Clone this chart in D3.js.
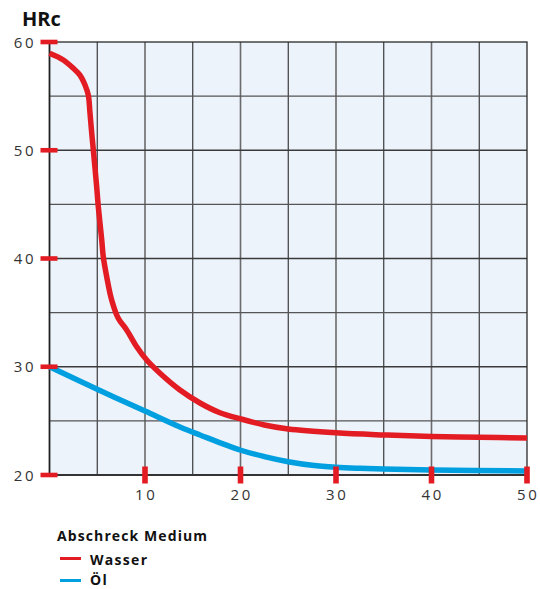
<!DOCTYPE html>
<html><head><meta charset="utf-8">
<script src="https://cdn.jsdelivr.net/npm/d3@7"></script>
<style>
html,body{margin:0;padding:0;background:#fff;}
svg{display:block;font-family:"Open Sans","Noto Sans",sans-serif;}
</style></head>
<body>
<script>
// Data
const xTicks = [10, 20, 30, 40, 50];
const yTicks = [20, 30, 40, 50, 60];
const wasserX = [0, 1.45, 2.49, 3.19, 3.72, 4.06, 4.24, 4.42, 4.59, 4.94, 5.11, 5.47, 5.63, 5.99, 6.51, 7.2, 8.08, 9.13, 10.18, 11.57, 13.66, 15.76, 17.85, 19.95, 22.5, 25, 30, 35, 40, 45, 50];
const wasserY = [58.96, 58.34, 57.57, 56.95, 56.03, 55.1, 53.44, 51.59, 50.02, 46.63, 44.79, 41.71, 40.17, 38.32, 36.17, 34.48, 33.4, 31.85, 30.62, 29.4, 27.85, 26.65, 25.75, 25.2, 24.62, 24.25, 23.9, 23.7, 23.55, 23.48, 23.42];
const oelX = [0, 4.94, 10.0, 13.66, 15.76, 19.95, 22.5, 25, 27.5, 30, 32.5, 35, 40, 50];
const oelY = [30.0, 27.94, 25.91, 24.44, 23.7, 22.31, 21.7, 21.23, 20.9, 20.72, 20.62, 20.55, 20.46, 20.37];
const seriesNames = ["Wasser", "Öl"];
const seriesColors = ["#E31B23", "#009FDF"];
const legendTitle = "Abschreck Medium";
const yTitle = "HRc";

const W = 540, H = 589;
const svg = d3.select("body").append("svg").attr("width", W).attr("height", H);

const x = d3.scaleLinear().domain([0, 50]).range([49.5, 527]);
const y = d3.scaleLinear().domain([20, 60]).range([475, 42]);

// plot background
svg.append("rect").attr("x", x(0)).attr("y", y(60))
  .attr("width", x(50) - x(0)).attr("height", y(20) - y(60))
  .attr("fill", "#ECF3FB");

// grid
const gridX = d3.range(5, 50, 5);
const gridY = d3.range(25, 60, 5);
svg.append("g").selectAll("line").data(gridX).join("line")
  .attr("x1", d => x(d)).attr("x2", d => x(d)).attr("y1", y(60)).attr("y2", y(20))
  .attr("stroke", d => d % 10 === 0 ? "#6a6a6a" : "#2a2a2a").attr("stroke-width", d => d % 10 === 0 ? 1.6 : 1.1);
svg.append("g").selectAll("line").data(gridY).join("line")
  .attr("y1", d => y(d)).attr("y2", d => y(d)).attr("x1", x(0)).attr("x2", x(50))
  .attr("stroke", d => d % 10 === 0 ? "#3a3a3a" : "#555").attr("stroke-width", 1.3);

// frame
svg.append("rect").attr("x", x(0)).attr("y", y(60))
  .attr("width", x(50) - x(0)).attr("height", y(20) - y(60))
  .attr("fill", "none").attr("stroke", "#2a2a2a").attr("stroke-width", 1.3);
svg.append("line").attr("x1", x(0)).attr("x2", x(50)).attr("y1", y(20)).attr("y2", y(20))
  .attr("stroke", "#333").attr("stroke-width", 2);
svg.append("line").attr("x1", x(0)).attr("x2", x(0)).attr("y1", y(60)).attr("y2", y(20))
  .attr("stroke", "#222").attr("stroke-width", 1.6);

// curves
const line = d3.line().curve(d3.curveCatmullRom.alpha(0.5)).x(d => x(d[0])).y(d => y(d[1]));
const wasser = wasserX.map((v, i) => [v, wasserY[i]]);
const oel = oelX.map((v, i) => [v, oelY[i]]);
svg.append("path").datum(oel).attr("d", line).attr("fill", "none")
  .attr("stroke", seriesColors[1]).attr("stroke-width", 5.5).attr("stroke-linejoin", "round");
svg.append("path").datum(wasser).attr("d", line).attr("fill", "none")
  .attr("stroke", seriesColors[0]).attr("stroke-width", 5.5).attr("stroke-linejoin", "round");

// red tick marks
svg.append("g").selectAll("rect").data(yTicks).join("rect")
  .attr("x", x(0) - 9).attr("y", d => y(d) - 2.3).attr("width", 17).attr("height", 4.6)
  .attr("fill", "#E31B23");
svg.append("g").selectAll("rect").data(xTicks).join("rect")
  .attr("x", d => x(d) - 2.8).attr("y", y(20) - 8.5).attr("width", 5.6).attr("height", 17)
  .attr("fill", "#E31B23");

// axis labels
svg.append("g").selectAll("text").data(yTicks).join("text")
  .attr("x", 36).attr("y", d => y(d) + 5.5).attr("text-anchor", "end")
  .attr("font-size", 15).attr("letter-spacing", 2.5).attr("fill", "#333")
  .text(d => d);
svg.append("g").selectAll("text").data(xTicks).join("text")
  .attr("x", d => x(d) + 1.2).attr("y", 500).attr("text-anchor", "middle")
  .attr("font-size", 15).attr("letter-spacing", 2.5).attr("fill", "#333")
  .text(d => d);

svg.append("text").attr("x", 22).attr("y", 26).attr("font-size", 20).attr("font-weight", "bold")
  .attr("fill", "#111").text(yTitle);

// legend
svg.append("text").attr("x", 57).attr("y", 540.5).attr("font-size", 14).attr("font-weight", "bold")
  .attr("letter-spacing", 1.1).attr("fill", "#111").text(legendTitle);
const lg = svg.append("g").selectAll("g").data(seriesNames).join("g")
  .attr("transform", (d, i) => `translate(0,${558.5 + i * 22})`);
lg.append("line").attr("x1", 60).attr("x2", 81).attr("y1", 0).attr("y2", 0)
  .attr("stroke", (d, i) => seriesColors[i]).attr("stroke-width", 3);
lg.append("text").attr("x", 90).attr("y", (d, i) => i === 0 ? 6.5 : 4.8).attr("font-size", 14).attr("font-weight", "bold")
  .attr("letter-spacing", 1.3).attr("fill", "#111").text(d => d);
</script>
</body></html>
